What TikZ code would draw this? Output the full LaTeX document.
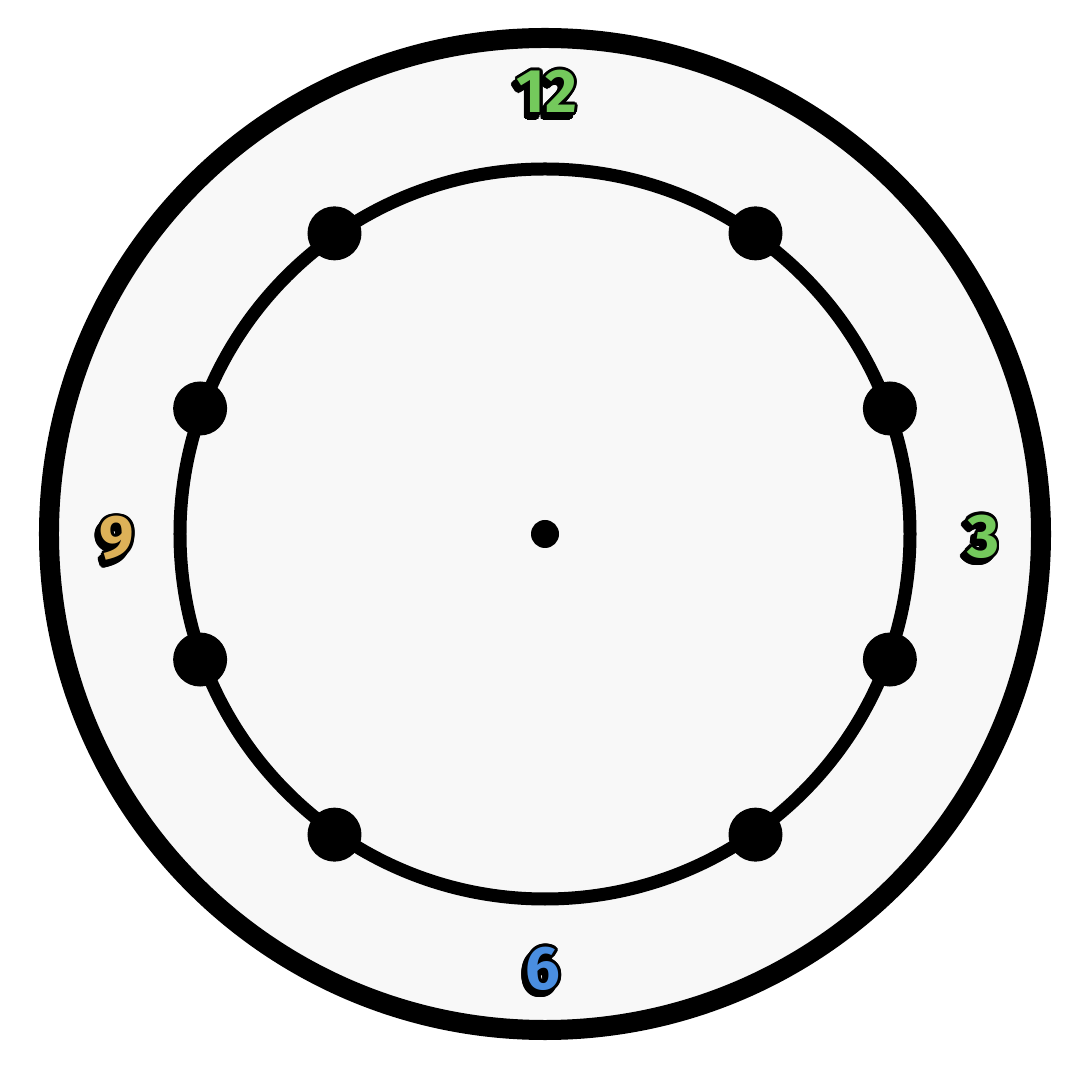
\documentclass[tikz,border=0pt]{standalone}
\usepackage{fontspec}
\usepackage{contour}
\setmainfont{Fira Sans}
\contourlength{0.8pt}
\contournumber{16}
\definecolor{faceback}{HTML}{F8F8F8}
\definecolor{numgreen}{HTML}{74C95C}
\definecolor{numblue}{HTML}{4A8EE0}
\definecolor{numtan}{HTML}{DDB158}
\tikzset{
  hournum/.style={font=\fontsize{17.5}{20}\selectfont\bfseries,inner sep=0pt},
  hourshadow/.style={hournum,text=black,xshift=-0.035cm,yshift=-0.045cm}
}
\newcommand{\hourtext}[2]{\contour{black}{\textcolor{#1}{#2}}}
\begin{document}
\begin{tikzpicture}
  \useasboundingbox (-5.45,-5.46) rectangle (5.35,5.34);
  \fill[white] (-5.45,-5.46) rectangle (5.35,5.34);
  \draw[line width=0.2cm,fill=faceback] (0,0) circle (4.96);
  \draw[line width=0.13cm] (0,0) circle (3.65);
  \foreach \ang in {20,55,125,160,200,235,305,340}
    \fill (\ang:3.67) circle (0.27);
  \fill (0,0) circle (0.14);
  % hour numbers with a dark shadow
  \node[hourshadow] at (0.02,4.41) {\hourtext{black}{12}};
  \node[hournum] (twelve) at (0.02,4.41) {\hourtext{numgreen}{12}};
  \node[hourshadow] at (4.38,-0.04) {\hourtext{black}{3}};
  \node[hournum] (three) at (4.38,-0.04) {\hourtext{numgreen}{3}};
  \node[hourshadow] at (-0.02,-4.36) {\hourtext{black}{6}};
  \node[hournum] (six) at (-0.02,-4.36) {\hourtext{numblue}{6}};
  \node[hourshadow] at (-4.28,-0.06) {\hourtext{black}{9}};
  \node[hournum] (nine) at (-4.28,-0.06) {\hourtext{numtan}{9}};
\end{tikzpicture}
\end{document}
